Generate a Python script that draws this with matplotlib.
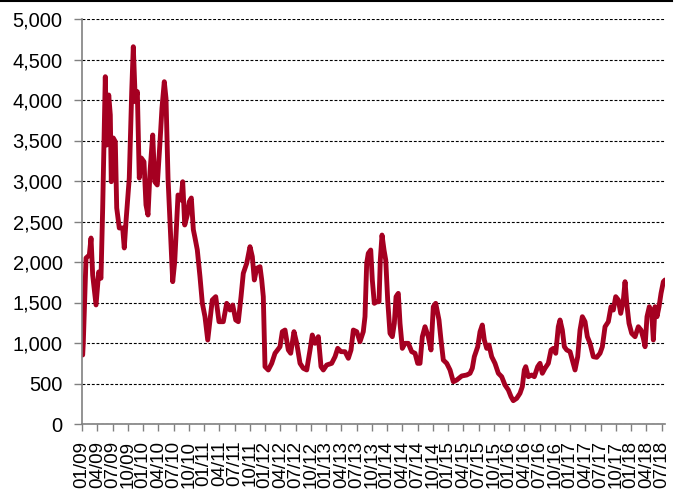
import matplotlib
matplotlib.use("Agg")
import matplotlib.pyplot as plt
from matplotlib.lines import Line2D
from matplotlib.ticker import FuncFormatter

plt.rcParams['font.family'] = ['Liberation Sans', 'DejaVu Sans']

# index level (time in decimal years)
years = [
    2009.011, 2009.021, 2009.066, 2009.120, 2009.148, 2009.175, 2009.230, 2009.274,
    2009.311, 2009.339, 2009.382, 2009.405, 2009.438, 2009.464, 2009.480, 2009.513,
    2009.546, 2009.569, 2009.611, 2009.667, 2009.693, 2009.721, 2009.775, 2009.815,
    2009.841, 2009.874, 2009.907, 2009.939, 2009.972, 2010.016, 2010.049, 2010.082,
    2010.115, 2010.159, 2010.192, 2010.234, 2010.279, 2010.311, 2010.349, 2010.377,
    2010.410, 2010.443, 2010.487, 2010.520, 2010.574, 2010.623, 2010.651, 2010.684,
    2010.726, 2010.759, 2010.792, 2010.825, 2010.852, 2010.890, 2010.934, 2010.972,
    2011.016, 2011.061, 2011.098, 2011.136, 2011.192, 2011.246, 2011.316, 2011.372,
    2011.426, 2011.470, 2011.520, 2011.562, 2011.607, 2011.644, 2011.700, 2011.754,
    2011.792, 2011.825, 2011.864, 2011.918, 2011.946, 2011.972, 2012.000, 2012.054,
    2012.110, 2012.164, 2012.246, 2012.284, 2012.328, 2012.382, 2012.421, 2012.475,
    2012.520, 2012.574, 2012.628, 2012.684, 2012.738, 2012.775, 2012.820, 2012.874,
    2012.918, 2012.956, 2013.011, 2013.093, 2013.148, 2013.192, 2013.246, 2013.311,
    2013.366, 2013.410, 2013.448, 2013.503, 2013.557, 2013.611, 2013.639, 2013.667,
    2013.693, 2013.733, 2013.759, 2013.792, 2013.831, 2013.869, 2013.890, 2013.918,
    2013.951, 2013.979, 2014.011, 2014.049, 2014.087, 2014.120, 2014.148, 2014.185,
    2014.213, 2014.251, 2014.295, 2014.349, 2014.405, 2014.459, 2014.503, 2014.541,
    2014.579, 2014.623, 2014.677, 2014.721, 2014.759, 2014.798, 2014.852, 2014.885,
    2014.923, 2014.979, 2015.033, 2015.087, 2015.143, 2015.225, 2015.307, 2015.361,
    2015.398, 2015.431, 2015.487, 2015.525, 2015.562, 2015.595, 2015.634, 2015.672,
    2015.716, 2015.770, 2015.825, 2015.880, 2015.934, 2015.989, 2016.033, 2016.070,
    2016.126, 2016.180, 2016.218, 2016.251, 2016.274, 2016.316, 2016.372, 2016.415,
    2016.470, 2016.508, 2016.546, 2016.590, 2016.644, 2016.689, 2016.726, 2016.766,
    2016.808, 2016.836, 2016.874, 2016.907, 2016.946, 2017.000, 2017.038, 2017.082,
    2017.126, 2017.164, 2017.202, 2017.246, 2017.284, 2017.328, 2017.382, 2017.438,
    2017.492, 2017.530, 2017.574, 2017.628, 2017.672, 2017.710, 2017.749, 2017.792,
    2017.831, 2017.874, 2017.902, 2017.930, 2017.967, 2018.011, 2018.066, 2018.120,
    2018.164, 2018.202, 2018.230, 2018.262, 2018.300, 2018.339, 2018.366, 2018.393,
    2018.426, 2018.459, 2018.492, 2018.530, 2018.557,
]
index_values = [
    852, 1000, 2049, 2086, 2296, 1840, 1470, 1877,
    1800, 2667, 4288, 3444, 4062, 3815, 2991, 3531,
    3485, 2667, 2420, 2420, 2173, 2498, 3037, 4103,
    4658, 3979, 4103, 3037, 3284, 3238, 2704, 2580,
    3115, 3568, 2991, 2951, 3485, 3901, 4226, 4021,
    3037, 2498, 1757, 2004, 2827, 2765, 2991, 2457,
    2580, 2745, 2790, 2400, 2300, 2150, 1819, 1494,
    1325, 1037, 1284, 1531, 1572, 1263, 1263, 1490,
    1407, 1469, 1284, 1263, 1572, 1860, 1984, 2189,
    2066, 1778, 1922, 1942, 1778, 1572, 708, 667,
    749, 873, 954, 1140, 1160, 914, 873, 1140,
    996, 749, 688, 667, 914, 1099, 996, 1078,
    708, 667, 728, 749, 831, 934, 893, 893,
    811, 914, 1160, 1140, 1016, 1140, 1325, 1984,
    2107, 2148, 1778, 1490, 1510, 1510, 2025, 2333,
    2148, 2025, 1531, 1119, 1078, 1243, 1572, 1613,
    1243, 934, 996, 996, 893, 873, 749, 749,
    1078, 1201, 1078, 914, 1448, 1490, 1284, 1037,
    790, 749, 667, 522, 543, 593, 605, 626,
    688, 831, 954, 1140, 1222, 1037, 934, 975,
    831, 749, 626, 584, 481, 420, 337, 288,
    317, 379, 461, 667, 708, 584, 605, 584,
    708, 749, 626, 688, 749, 914, 934, 873,
    1201, 1284, 1160, 954, 914, 893, 790, 667,
    831, 1160, 1325, 1263, 1078, 996, 831, 823,
    873, 954, 1201, 1263, 1448, 1407, 1572, 1531,
    1366, 1531, 1757, 1490, 1243, 1119, 1078, 1201,
    1160, 1058, 954, 1325, 1448, 1366, 1037, 1448,
    1325, 1448, 1613, 1757, 1778,
]

# quarterly axis labels mm/yy, 01/09 .. 07/18
tick_years = [y for y in range(2009, 2019) for _ in range(4)][:39]
tick_months = [m for _ in range(2009, 2019) for m in (1, 4, 7, 10)][:39]
tick_labels = [f"{m:02d}/{y % 100:02d}" for y, m in zip(tick_years, tick_months)]
tick_pos = [y + (m - 1) / 12 for y, m in zip(tick_years, tick_months)]

fig = plt.figure(figsize=(6.78, 4.97), dpi=100)
ax = fig.add_axes([82 / 678, 1 - 424 / 497, (665 - 82) / 678, (424 - 19) / 497])

ax.plot(years, index_values, color='#a50021', lw=3.5, solid_capstyle='round',
        solid_joinstyle='round')

ax.set_xlim(2009.0, 2018.557)
ax.set_ylim(0, 5000)
ax.set_yticks(range(0, 5001, 500))
ax.yaxis.set_major_formatter(FuncFormatter(lambda v, p: f"{int(v):,}"))
ax.set_xticks(tick_pos)
ax.set_xticklabels(tick_labels, rotation=90)

ax.grid(axis='y', color='black', linestyle=(0, (2.6, 1.6)), linewidth=0.8)
ax.set_axisbelow(True)

for side in ('top', 'right'):
    ax.spines[side].set_visible(False)
for side in ('left', 'bottom'):
    ax.spines[side].set_color('#808080')
    ax.spines[side].set_linewidth(1.2)

ax.tick_params(axis='y', length=6, width=1, color='#808080', pad=8, labelsize=14.5)
ax.tick_params(axis='x', length=5, width=1, color='#808080', pad=7, labelsize=13.5)

# thin black rule along the top edge of the picture
fig.add_artist(Line2D([0, 672 / 678], [0.998, 0.998], color='black', lw=1.5,
                      transform=fig.transFigure))

fig.savefig("out.png", dpi=100)
